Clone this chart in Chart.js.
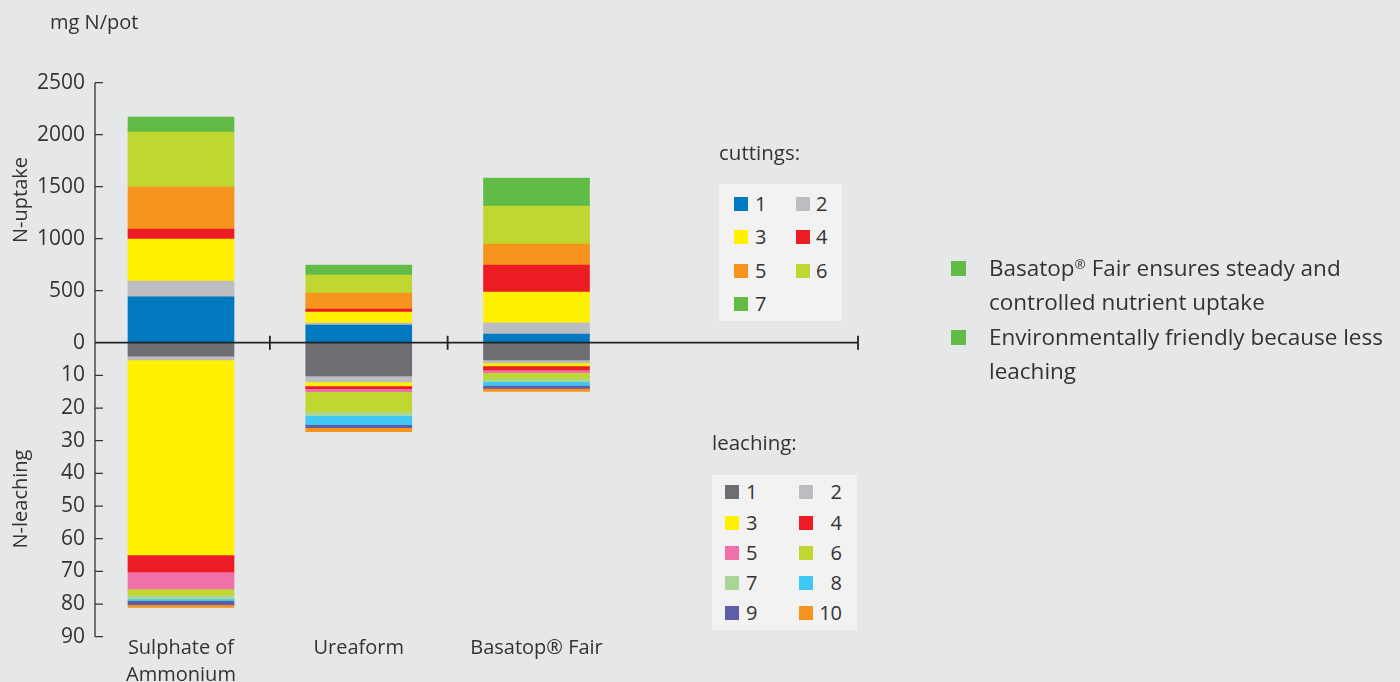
<!DOCTYPE html>
<html>
<head>
<meta charset="utf-8">
<script src="https://cdn.jsdelivr.net/npm/chart.js@4"></script>
<style>
  body { margin: 0; background: #e6e7e8; font-family: "Open Sans", sans-serif; color: #333; }
  #wrap { position: relative; width: 1400px; height: 682px; }
  #chart { position: absolute; left: 0; top: 0; }
  .lbl { position: absolute; font-size: 20.5px; line-height: 24px; white-space: nowrap; }
  .box { position: absolute; background: #f2f2f2; }
  .sw { position: absolute; width: 14px; height: 14px; }
  .num { position: absolute; font-size: 20px; line-height: 24px; }
  .note { position: absolute; left: 989px; font-size: 22.5px; line-height: 34px; white-space: nowrap; }
  .note sup { font-size: 0.6em; vertical-align: 0.55em; line-height: 0; }
  .bullet { position: absolute; left: 951px; width: 15px; height: 15px; background: #62bb46; }
</style>
</head>
<body>
<div id="wrap">
  <canvas id="chart" width="1400" height="682"></canvas>
</div>
<script>
// produk (x-posisi 1, 2, 3)
const products = [['Sulphate of', 'Ammonium'], 'Ureaform', 'Basatop® Fair'];
const productX = [1, 2, 3];

// N-uptake per cutting (mg N/pot)
const cut1 = [440, 170, 84];
const cut2 = [153, 19, 106];
const cut3 = [404, 106, 297];
const cut4 = [96, 29, 260];
const cut5 = [404, 154, 202];
const cut6 = [529, 173, 365];
const cut7 = [144, 96, 269];

// N-leaching per leaching (mg N/pot)
const leach1 = [4.1, 10.2, 5.3];
const leach2 = [1.2, 1.8, 0.9];
const leach3 = [59.7, 1.2, 0.9];
const leach4 = [5.2, 0.9, 1.2];
const leach5 = [5.2, 0.9, 0.9];
const leach6 = [1.9, 6.1, 1.8];
const leach7 = [1.1, 1.2, 0.9];
const leach8 = [0.6, 2.8, 1.2];
const leach9 = [1.2, 0.9, 0.9];
const leach10 = [0.8, 1.2, 0.9];

const uptakeTicks = [0, 500, 1000, 1500, 2000, 2500];
const leachTicks = [0, 10, 20, 30, 40, 50, 60, 70, 80, 90];

const cuttingColors = ['#0079c1', '#bcbdc0', '#fff100', '#ed1c24', '#f7941d', '#bfd730', '#62bb46'];
const leachColors = ['#6d6e71', '#bcbdc0', '#fff100', '#ed1c24', '#f070a9', '#bfd730', '#a9d597', '#3fc8f4', '#5f5ca8', '#f7941d'];

const notes = [
    ['Basatop<sup>®</sup> Fair ensures steady and', 'controlled nutrient uptake'],
    ['Environmentally friendly because less', 'leaching']
];

const cuttings = [cut1, cut2, cut3, cut4, cut5, cut6, cut7];
const leachings = [leach1, leach2, leach3, leach4, leach5, leach6, leach7, leach8, leach9, leach10];

const textColor = '#333';
const fontFam = '"Open Sans", sans-serif';

function toPoints(arr) {
    return arr.map((v, i) => ({ x: productX[i], y: v }));
}

// semua dataset satu grup; stacking tetap terpisah per sumbu y
const datasets = [];
cuttings.forEach((arr, i) => {
    datasets.push({
        label: 'cutting ' + (i + 1),
        data: toPoints(arr),
        backgroundColor: cuttingColors[i],
        borderWidth: 0,
        yAxisID: 'yUp',
        stack: 'all'
    });
});
leachings.forEach((arr, i) => {
    datasets.push({
        label: 'leaching ' + (i + 1),
        data: toPoints(arr),
        backgroundColor: leachColors[i],
        borderWidth: 0,
        yAxisID: 'yDown',
        stack: 'all'
    });
});

// sumbu, garis nol dan judul
const axisPlugin = {
    id: 'axisDeco',
    afterDatasetsDraw(chart) {
        const ctx = chart.ctx;
        const { left, right } = chart.chartArea;
        const yUp = chart.scales.yUp;
        const yDown = chart.scales.yDown;
        const x = chart.scales.x;
        const zeroY = yUp.getPixelForValue(0);

        ctx.save();
        ctx.strokeStyle = '#333';
        ctx.lineWidth = 1.3;
        ctx.beginPath();
        ctx.moveTo(left, yUp.getPixelForValue(uptakeTicks[uptakeTicks.length - 1]));
        ctx.lineTo(left, yDown.getPixelForValue(leachTicks[leachTicks.length - 1]));
        uptakeTicks.forEach(v => {
            if (v === 0) return;
            const py = yUp.getPixelForValue(v);
            ctx.moveTo(left, py);
            ctx.lineTo(left + 8, py);
        });
        leachTicks.forEach(v => {
            if (v === 0) return;
            const py = yDown.getPixelForValue(v);
            ctx.moveTo(left, py);
            ctx.lineTo(left + 8, py);
        });
        ctx.stroke();

        ctx.strokeStyle = '#222';
        ctx.lineWidth = 1.8;
        ctx.beginPath();
        ctx.moveTo(left, zeroY);
        ctx.lineTo(right, zeroY);
        [1.5, 2.5].forEach(v => {
            const px = x.getPixelForValue(v);
            ctx.moveTo(px, zeroY - 7);
            ctx.lineTo(px, zeroY + 7);
        });
        ctx.moveTo(right, zeroY - 7);
        ctx.lineTo(right, zeroY + 7);
        ctx.stroke();

        ctx.fillStyle = textColor;
        ctx.font = '20px ' + fontFam;
        ctx.textBaseline = 'middle';
        ctx.textAlign = 'left';
        ctx.fillText('mg N/pot', 50, 23);
        ctx.textAlign = 'center';
        ctx.save();
        ctx.translate(21, 200);
        ctx.rotate(-Math.PI / 2);
        ctx.fillText('N-uptake', 0, 0);
        ctx.restore();
        ctx.save();
        ctx.translate(21, 499);
        ctx.rotate(-Math.PI / 2);
        ctx.fillText('N-leaching', 0, 0);
        ctx.restore();
        ctx.restore();
    }
};

const tickFont = { family: fontFam, size: 21 };

new Chart(document.getElementById('chart'), {
    type: 'bar',
    data: { datasets: datasets },
    options: {
        responsive: false,
        animation: false,
        layout: { padding: { top: 82.7, right: 542, bottom: 0, left: 0 } },
        plugins: { legend: { display: false }, tooltip: { enabled: false } },
        datasets: { bar: { barThickness: 106 } },
        scales: {
            x: {
                type: 'linear',
                min: 0.5162,
                max: 4.8087,
                offset: false,
                stacked: true,
                grid: { display: false, drawTicks: false, offset: false },
                border: { display: false },
                afterBuildTicks: s => { s.ticks = productX.map(v => ({ value: v })); },
                afterFit: s => { s.height = 45.3; },
                ticks: {
                    autoSkip: false,
                    maxRotation: 0,
                    padding: -2,
                    color: textColor,
                    font: { family: fontFam, size: 20, lineHeight: '27px' },
                    callback: v => products[v - 1] ?? ''
                }
            },
            yDown: {
                type: 'linear',
                position: 'left',
                stack: 'left',
                stackWeight: 294,
                weight: 1,
                reverse: true,
                min: 0,
                max: 90,
                stacked: true,
                grid: { display: false, drawTicks: false },
                border: { display: false },
                afterFit: s => { s.width = 95; },
                afterBuildTicks: s => { s.ticks = leachTicks.map(v => ({ value: v })); },
                ticks: {
                    autoSkip: false,
                    padding: 10,
                    color: textColor,
                    font: tickFont,
                    callback: v => v === 0 ? '' : v
                }
            },
            yUp: {
                type: 'linear',
                position: 'left',
                stack: 'left',
                stackWeight: 260,
                weight: 2,
                min: 0,
                max: 2500,
                stacked: true,
                grid: { display: false, drawTicks: false },
                border: { display: false },
                afterFit: s => { s.width = 95; },
                afterBuildTicks: s => { s.ticks = uptakeTicks.map(v => ({ value: v })); },
                ticks: {
                    autoSkip: false,
                    padding: 10,
                    color: textColor,
                    font: tickFont,
                    callback: v => v
                }
            }
        }
    },
    plugins: [axisPlugin]
});

// legenda HTML
const wrap = document.getElementById('wrap');
function addEl(cls, css, text, html) {
    const el = document.createElement('div');
    el.className = cls;
    Object.assign(el.style, css);
    if (html !== undefined) el.innerHTML = html;
    else if (text !== undefined) el.textContent = text;
    wrap.appendChild(el);
    return el;
}

addEl('lbl', { left: '719px', top: '140px' }, 'cuttings:');
addEl('box', { left: '719px', top: '184px', width: '123px', height: '137px' });
const cutRows = [204, 237, 271, 304];
cuttingColors.forEach((c, i) => {
    const row = Math.floor(i / 2), col = i % 2;
    const cy = cutRows[row];
    addEl('sw', { left: (col ? 796 : 734) + 'px', top: (cy - 7) + 'px', background: c });
    addEl('num', { left: (col ? 816 : 755) + 'px', top: (cy - 12) + 'px' }, String(i + 1));
});

addEl('lbl', { left: '712px', top: '430px' }, 'leaching:');
addEl('box', { left: '712px', top: '475px', width: '145px', height: '155px' });
const leachRows = [492, 523, 553, 583, 613];
leachColors.forEach((c, i) => {
    const row = Math.floor(i / 2), col = i % 2;
    const cy = leachRows[row];
    addEl('sw', { left: (col ? 799 : 725) + 'px', top: (cy - 7) + 'px', background: c });
    if (col) {
        addEl('num', { left: '792px', width: '50px', textAlign: 'right', top: (cy - 12) + 'px' }, String(i + 1));
    } else {
        addEl('num', { left: '746px', top: (cy - 12) + 'px' }, String(i + 1));
    }
});

const noteTops = [268, 337];
notes.forEach((lines, i) => {
    addEl('bullet', { top: (noteTops[i] - 7.5) + 'px' });
    lines.forEach((t, j) => {
        addEl('note', { top: (noteTops[i] - 17 + j * 34) + 'px' }, undefined, t);
    });
});
</script>
</body>
</html>
